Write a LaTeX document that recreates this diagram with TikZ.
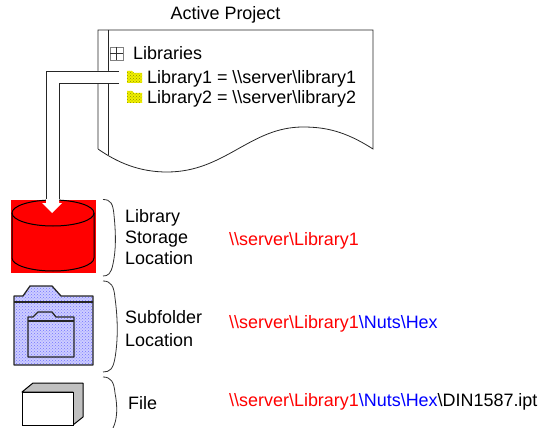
\documentclass[tikz,border=0pt]{standalone}
\usepackage{fontspec}
\setmainfont{Liberation Sans}
\usetikzlibrary{patterns}
\definecolor{folderblue}{RGB}{205,205,255}
\definecolor{folderyellow}{RGB}{240,240,0}
\definecolor{boxgray}{RGB}{192,192,192}
\newcommand{\bs}{\textbackslash}
\tikzset{
  label/.style={anchor=west,inner sep=0pt,font=\fontsize{17.95}{21}\selectfont,align=left},
  sheetline/.style={draw=black!85,line width=0.8pt},
  bracket/.style={draw=black!80,line width=0.8pt},
  bigfolder/.style={draw=black!85,line width=1.3pt,line join=round},
}
\begin{document}
\begin{tikzpicture}[x=1pt,y=-1pt]
    \useasboundingbox (0,0) rectangle (539,428);
    % project sheet
    \draw[sheetline] (98,149) -- (98,30) -- (373,30) -- (373,149)
      .. controls (345,131) and (325,127) .. (303,127)
      .. controls (250,127) and (225,172) .. (167,172)
      .. controls (140,172) and (118,163) .. (98,149);
    \draw[sheetline] (108,30) -- (108,155);
    \node[label] (project) at (170.5,15) {Active Project};
    \draw[gray,fill=white] (110,47) rectangle (123,60);
    \draw[black!80] (116.5,47) -- (116.5,60) (110,53.5) -- (123,53.5);
    \node[label] (libraries) at (133,53) {Libraries};
    \foreach \y/\n in {71/1,91/2} {
      \fill[folderyellow] (127,\y) -- (132,\y) -- (134,\y+2) -- (142,\y+2) -- (142,\y+12) -- (127,\y+12) -- cycle;
      \fill[pattern=crosshatch dots,pattern color=black!45!yellow] (127,\y) -- (132,\y) -- (134,\y+2) -- (142,\y+2) -- (142,\y+12) -- (127,\y+12) -- cycle;
    }
    \node[label] (libone) at (147,79) {Library1 = \bs\bs server\bs library1};
    \node[label] (libtwo) at (147,99) {Library2 = \bs\bs server\bs library2};
    % storage location
    \fill[red] (11,200) rectangle (96,273);
    \draw[line width=1pt] (12,213) -- (12,258) arc[start angle=180,end angle=360,x radius=41,y radius=-13] -- (94,213);
    \draw[line width=1pt] (53,213) ellipse[x radius=41,y radius=13];
    % arrow from the library entry
    \fill[white] (119,71) -- (46,71) -- (46,203) -- (42,203) -- (52,213) -- (62,203) -- (59,203) -- (59,83) -- (119,83) -- cycle;
    \draw[sheetline] (119,71) -- (46,71) -- (46,199);
    \draw[sheetline] (119,83) -- (59,83) -- (59,199);
    \draw[bracket] (103,199.5) .. controls (111,199.5) and (113,204) .. (114,215)
      .. controls (116,235) and (116,250) .. (113,264) .. controls (111,274) and (108,276) .. (103,276);
    \node[label] (storagetxt) at (125,237) {Library\\Storage\\Location};
    \node[label,text=red] (storagepath) at (229,241) {\bs\bs server\bs Library1};
    % subfolder location
    \fill[folderblue] (14,365) -- (14,296) -- (23,296) -- (30,286) -- (52,286) -- (61,296) -- (93,296) -- (93,365) -- cycle;
    \draw[bigfolder,pattern=crosshatch dots,pattern color=blue!55] (14,365) -- (14,296) -- (23,296) -- (30,286) -- (52,286) -- (61,296) -- (93,296) -- (93,365) -- cycle;
    \draw[bigfolder] (14,302) -- (93,302);
    \draw[bigfolder] (28,357) -- (28,317) -- (33,317) -- (38,312) -- (52,312) -- (56,317) -- (74,317) -- (74,357) -- cycle;
    \draw[bigfolder] (28,321) -- (74,321);
    \draw[bracket] (103,281) .. controls (111,281) and (114,286) .. (115,298)
      .. controls (118,320) and (118,340) .. (115,358) .. controls (113,369) and (110,372) .. (103,372);
    \node[label,font=\fontsize{17.95}{23}\selectfont] (subfoldertxt) at (125,328.5) {Subfolder\\Location};
    \node[label] (subfolderpath) at (229,324) {\textcolor{red}{\bs\bs server\bs Library1}\textcolor{blue}{\bs Nuts\bs Hex}};
    % file
    \draw[line width=1pt,line join=round,fill=boxgray] (22,392) -- (33,383) -- (83,383) -- (83,417) -- (73,425) -- (73,392) -- cycle;
    \draw[line width=1pt,fill=white] (22,392) rectangle (73,425);
    \draw[bracket] (103,377) .. controls (111,377) and (114,382) .. (115,393)
      .. controls (118,408) and (117,420) .. (113,428);
    \node[label] (filetxt) at (128,403.5) {File};
    \node[label] (filepath) at (229,402) {\textcolor{red}{\bs\bs server\bs Library1}\textcolor{blue}{\bs Nuts\bs Hex}\bs DIN1587.ipt};
  \end{tikzpicture}
\end{document}
